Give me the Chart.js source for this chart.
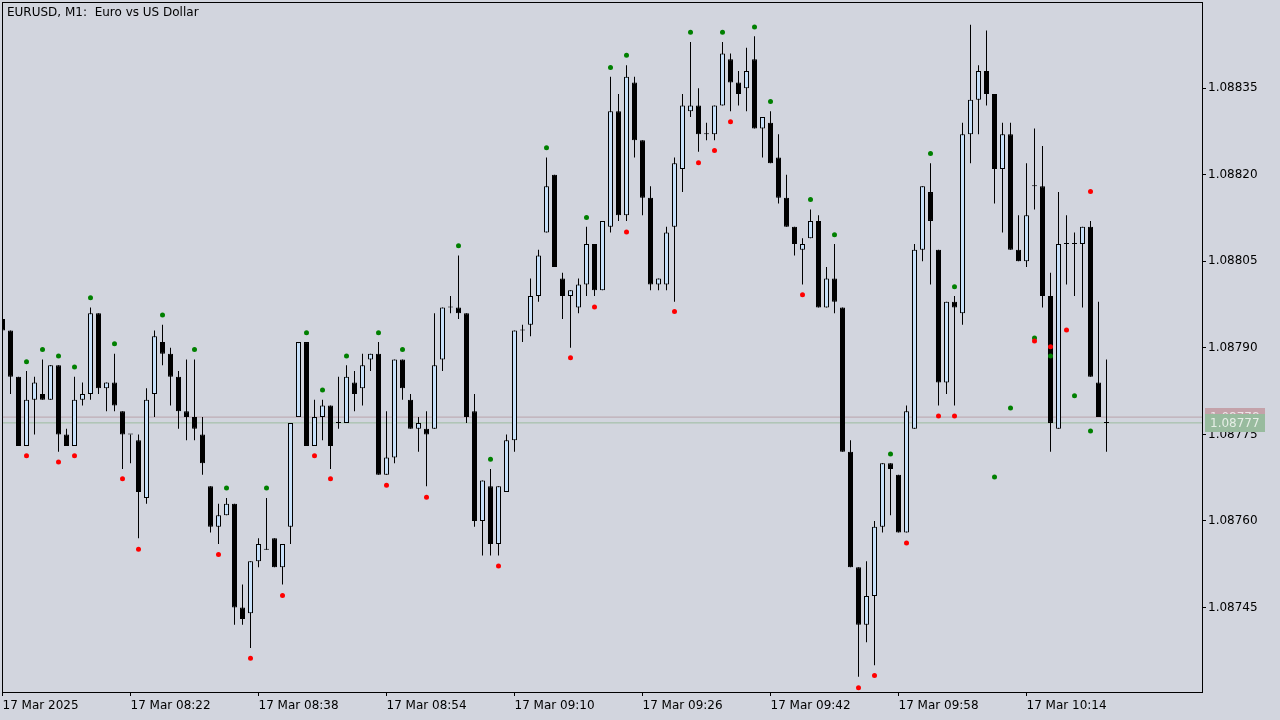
<!DOCTYPE html>
<html>
<head>
<meta charset="utf-8">
<title>EURUSD, M1</title>
<script src="https://cdn.jsdelivr.net/npm/chart.js@4.4.1/dist/chart.umd.min.js"></script>
<style>
  html, body { margin: 0; padding: 0; background: #d2d5de; }
  canvas { display: block; }
</style>
</head>
<body>
<canvas id="myChart" width="1280" height="720"></canvas>
<script>
// EURUSD M1, 17 Mar 2025, one candle per minute from 08:06 to 10:24
const opens = [
  1.08795, 1.08793, 1.08785, 1.08773, 1.08781, 1.08782, 1.08781, 1.08787, 1.08775, 1.08773,
  1.08781, 1.08782, 1.08796, 1.08783, 1.08784, 1.08779, 1.08775, 1.08774, 1.08764, 1.08782,
  1.08791, 1.08789, 1.08785, 1.08779, 1.08778, 1.08775, 1.08766, 1.08759, 1.08761, 1.08763,
  1.08745, 1.08744, 1.08753, 1.08755, 1.08757, 1.08752, 1.08759, 1.08778, 1.08791, 1.08773,
  1.08778, 1.08780, 1.08777, 1.08777, 1.08784, 1.08783, 1.08788, 1.08789, 1.08768, 1.08771,
  1.08788, 1.08781, 1.08776, 1.08776, 1.08776, 1.08788, 1.08797, 1.08797, 1.08796, 1.08779,
  1.08760, 1.08766, 1.08756, 1.08765, 1.08774, 1.08793, 1.08794, 1.08799, 1.08810, 1.08820,
  1.08802, 1.08799, 1.08797, 1.08801, 1.08808, 1.08800, 1.08811, 1.08831, 1.08813, 1.08836,
  1.08826, 1.08816, 1.08801, 1.08801, 1.08811, 1.08821, 1.08831, 1.08832, 1.08827, 1.08827,
  1.08832, 1.08840, 1.08836, 1.08835, 1.08840, 1.08828, 1.08829, 1.08823, 1.08816, 1.08811,
  1.08807, 1.08809, 1.08812, 1.08797, 1.08802, 1.08797, 1.08772, 1.08752, 1.08742, 1.08747,
  1.08759, 1.08770, 1.08768, 1.08758, 1.08776, 1.08807, 1.08817, 1.08807, 1.08784, 1.08798,
  1.08796, 1.08827, 1.08833, 1.08838, 1.08834, 1.08821, 1.08827, 1.08807, 1.08805, 1.08818,
  1.08818, 1.08799, 1.08776, 1.08808, 1.08808, 1.08808, 1.08811, 1.08784, 1.08777
];
const highs = [
  1.08795, 1.08793, 1.08785, 1.08786, 1.08785, 1.08788, 1.08787, 1.08787, 1.08776, 1.08785,
  1.08784, 1.08797, 1.08796, 1.08784, 1.08789, 1.08779, 1.08775, 1.08775, 1.08783, 1.08793,
  1.08794, 1.08790, 1.08786, 1.08788, 1.08788, 1.08778, 1.08766, 1.08763, 1.08764, 1.08763,
  1.08749, 1.08753, 1.08757, 1.08764, 1.08757, 1.08756, 1.08777, 1.08791, 1.08791, 1.08781,
  1.08781, 1.08780, 1.08785, 1.08787, 1.08786, 1.08789, 1.08789, 1.08791, 1.08779, 1.08788,
  1.08788, 1.08782, 1.08778, 1.08779, 1.08796, 1.08797, 1.08799, 1.08806, 1.08796, 1.08782,
  1.08767, 1.08769, 1.08766, 1.08775, 1.08793, 1.08794, 1.08802, 1.08807, 1.08823, 1.08820,
  1.08803, 1.08800, 1.08802, 1.08811, 1.08808, 1.08812, 1.08837, 1.08834, 1.08839, 1.08837,
  1.08826, 1.08818, 1.08802, 1.08811, 1.08823, 1.08834, 1.08843, 1.08835, 1.08829, 1.08832,
  1.08843, 1.08841, 1.08838, 1.08842, 1.08844, 1.08830, 1.08831, 1.08827, 1.08820, 1.08811,
  1.08809, 1.08814, 1.08813, 1.08804, 1.08808, 1.08797, 1.08774, 1.08752, 1.08753, 1.08760,
  1.08770, 1.08770, 1.08768, 1.08780, 1.08808, 1.08818, 1.08822, 1.08807, 1.08798, 1.08799,
  1.08829, 1.08846, 1.08839, 1.08845, 1.08834, 1.08829, 1.08829, 1.08813, 1.08822, 1.08828,
  1.08825, 1.08803, 1.08817, 1.08813, 1.08810, 1.08811, 1.08812, 1.08798, 1.08788
];
const lows = [
  1.08793, 1.08782, 1.08773, 1.08773, 1.08775, 1.08781, 1.08781, 1.08772, 1.08773, 1.08773,
  1.08780, 1.08781, 1.08782, 1.08779, 1.08779, 1.08769, 1.08770, 1.08757, 1.08763, 1.08778,
  1.08787, 1.08780, 1.08776, 1.08774, 1.08774, 1.08768, 1.08758, 1.08756, 1.08761, 1.08742,
  1.08742, 1.08738, 1.08752, 1.08755, 1.08752, 1.08749, 1.08756, 1.08778, 1.08773, 1.08773,
  1.08774, 1.08769, 1.08776, 1.08777, 1.08779, 1.08780, 1.08786, 1.08768, 1.08768, 1.08770,
  1.08781, 1.08776, 1.08772, 1.08766, 1.08776, 1.08786, 1.08796, 1.08795, 1.08777, 1.08759,
  1.08754, 1.08754, 1.08754, 1.08765, 1.08772, 1.08791, 1.08792, 1.08798, 1.08810, 1.08804,
  1.08795, 1.08790, 1.08796, 1.08799, 1.08799, 1.08800, 1.08810, 1.08812, 1.08812, 1.08823,
  1.08813, 1.08800, 1.08800, 1.08800, 1.08798, 1.08817, 1.08830, 1.08824, 1.08826, 1.08826,
  1.08832, 1.08831, 1.08832, 1.08831, 1.08828, 1.08823, 1.08822, 1.08815, 1.08811, 1.08806,
  1.08801, 1.08809, 1.08797, 1.08797, 1.08796, 1.08772, 1.08752, 1.08733, 1.08739, 1.08735,
  1.08758, 1.08761, 1.08758, 1.08758, 1.08776, 1.08805, 1.08801, 1.08780, 1.08782, 1.08780,
  1.08794, 1.08822, 1.08827, 1.08832, 1.08815, 1.08810, 1.08807, 1.08805, 1.08804, 1.08814,
  1.08797, 1.08772, 1.08776, 1.08801, 1.08799, 1.08797, 1.08785, 1.08778, 1.08772
];
const closes = [
  1.08793, 1.08785, 1.08773, 1.08781, 1.08784, 1.08781, 1.08787, 1.08775, 1.08773, 1.08781,
  1.08782, 1.08796, 1.08783, 1.08784, 1.08780, 1.08775, 1.08775, 1.08765, 1.08781, 1.08792,
  1.08789, 1.08785, 1.08779, 1.08778, 1.08776, 1.08770, 1.08759, 1.08761, 1.08763, 1.08745,
  1.08743, 1.08753, 1.08756, 1.08755, 1.08752, 1.08756, 1.08777, 1.08791, 1.08773, 1.08778,
  1.08780, 1.08773, 1.08777, 1.08785, 1.08782, 1.08787, 1.08789, 1.08768, 1.08771, 1.08788,
  1.08783, 1.08776, 1.08777, 1.08775, 1.08787, 1.08797, 1.08797, 1.08796, 1.08778, 1.08760,
  1.08767, 1.08756, 1.08766, 1.08774, 1.08793, 1.08793, 1.08799, 1.08806, 1.08818, 1.08804,
  1.08799, 1.08800, 1.08801, 1.08808, 1.08800, 1.08812, 1.08831, 1.08813, 1.08837, 1.08826,
  1.08816, 1.08801, 1.08802, 1.08810, 1.08822, 1.08832, 1.08832, 1.08827, 1.08827, 1.08832,
  1.08841, 1.08836, 1.08834, 1.08838, 1.08828, 1.08830, 1.08822, 1.08816, 1.08811, 1.08808,
  1.08808, 1.08812, 1.08797, 1.08802, 1.08798, 1.08772, 1.08752, 1.08742, 1.08747, 1.08759,
  1.08770, 1.08769, 1.08758, 1.08779, 1.08807, 1.08818, 1.08812, 1.08784, 1.08798, 1.08797,
  1.08827, 1.08833, 1.08838, 1.08834, 1.08821, 1.08827, 1.08807, 1.08805, 1.08813, 1.08818,
  1.08799, 1.08777, 1.08808, 1.08808, 1.08808, 1.08811, 1.08785, 1.08778, 1.08777
];

// indicator dots: green above, red below (candle index + value)
const upDotIndex = [3, 5, 7, 9, 11, 14, 20, 24, 28, 33, 38, 40, 43, 47, 50, 57, 61, 68, 73, 76,
  78, 86, 90, 94, 96, 101, 104, 111, 116, 119, 124, 126, 129, 131, 134, 136];
const upDotValue = [1.087876, 1.087897, 1.087886, 1.087867, 1.087987, 1.087907, 1.087957, 1.087897,
  1.087657, 1.087657, 1.087926, 1.087827, 1.087886, 1.087926, 1.087897, 1.088077, 1.087707,
  1.088247, 1.088126, 1.088386, 1.088407, 1.088447, 1.088447, 1.088456, 1.088327, 1.088157,
  1.088096, 1.087716, 1.088237, 1.088006, 1.087676, 1.087796, 1.087917, 1.087886, 1.087817, 1.087756];
const downDotIndex = [3, 7, 9, 15, 17, 27, 31, 35, 39, 41, 48, 53, 62, 71, 74, 78, 84, 87, 89, 91,
  100, 107, 109, 113, 117, 119, 129, 131, 133, 136];
const downDotValue = [1.087713, 1.087702, 1.087713, 1.087673, 1.087551, 1.087542, 1.087362, 1.087471,
  1.087713, 1.087673, 1.087662, 1.087641, 1.087522, 1.087883, 1.087971, 1.088101, 1.087963,
  1.088221, 1.088242, 1.088292, 1.087992, 1.087311, 1.087332, 1.087562, 1.087782, 1.087782,
  1.087912, 1.087902, 1.087931, 1.088171];

const bidPrice = 1.08777;
const askPrice = 1.08778;

const xTickIndex = [0, 16, 32, 48, 64, 80, 96, 112, 128];
const xTickLabels = ['17 Mar 2025', '17 Mar 08:22', '17 Mar 08:38', '17 Mar 08:54', '17 Mar 09:10',
  '17 Mar 09:26', '17 Mar 09:42', '17 Mar 09:58', '17 Mar 10:14'];
const yTickValues = [1.08745, 1.0876, 1.08775, 1.0879, 1.08805, 1.0882, 1.08835];
const chartTitle = 'EURUSD, M1:  Euro vs US Dollar';

// visible window of the chart (8 px per minute)
const xMin = -0.0625;
const xMax = 149.9375;
const yMin = 1.0873036;
const yMax = 1.0884994;

const bullFill = '#c8e1fa';

const bodies = opens.map((o, i) => ({ x: i, y: [o, closes[i]] }));
const wicks = lows.map((l, i) => ({ x: i, y: [l, highs[i]] }));
const upDots = upDotIndex.map((idx, k) => ({ x: idx, y: upDotValue[k] }));
const downDots = downDotIndex.map((idx, k) => ({ x: idx, y: downDotValue[k] }));

// frame, title and the bid/ask boxes on the price scale
const mtDecor = {
  id: 'mtDecor',
  afterDraw(chart) {
    const { ctx, chartArea: a, scales: { y } } = chart;
    ctx.save();
    ctx.strokeStyle = '#000';
    ctx.lineWidth = 1;
    ctx.strokeRect(a.left + 0.5, a.top + 0.5, a.right - a.left, a.bottom - a.top);

    ctx.font = '12px "DejaVu Sans"';
    ctx.textBaseline = 'middle';
    ctx.fillStyle = '#000';
    ctx.fillText(chartTitle, a.left + 5, a.top + 11);

    const askY = Math.round(y.getPixelForValue(askPrice));
    const bidY = Math.round(y.getPixelForValue(bidPrice));
    ctx.fillStyle = '#c4a2aa';
    ctx.fillRect(a.right + 3, askY - 9, 60, 18);
    ctx.fillStyle = '#ece4e6';
    ctx.fillText(askPrice.toFixed(5), a.right + 8, askY + 1);
    ctx.fillStyle = '#98bb9e';
    ctx.fillRect(a.right + 3, bidY - 9, 60, 18);
    ctx.fillStyle = '#e6eee6';
    ctx.fillText(bidPrice.toFixed(5), a.right + 8, bidY + 1);
    ctx.restore();
  }
};

Chart.defaults.font.family = '"DejaVu Sans"';
Chart.defaults.font.size = 12;
Chart.defaults.color = '#000';

const ctx = document.getElementById('myChart').getContext('2d');
new Chart(ctx, {
  type: 'bar',
  data: {
    datasets: [
      {
        type: 'line', data: [{ x: xMin, y: askPrice }, { x: xMax, y: askPrice }],
        borderColor: '#b9a3ab', borderWidth: 1, pointRadius: 0, order: 11
      },
      {
        type: 'line', data: [{ x: xMin, y: bidPrice }, { x: xMax, y: bidPrice }],
        borderColor: '#9cbc9f', borderWidth: 1, pointRadius: 0, order: 10
      },
      {
        data: wicks, grouped: false, barThickness: 1, maxBarThickness: 1,
        backgroundColor: '#000', borderWidth: 0, inflateAmount: 0, order: 4
      },
      {
        data: bodies, grouped: false, barThickness: 5, maxBarThickness: 5,
        backgroundColor: (c) => closes[c.dataIndex] > opens[c.dataIndex] ? bullFill : '#000',
        borderColor: '#000', borderWidth: 1, borderSkipped: false,
        inflateAmount: 0, minBarLength: 1, order: 3
      },
      {
        type: 'line', data: upDots, showLine: false, pointRadius: 2.5,
        pointBackgroundColor: '#008000', pointBorderWidth: 0, order: 1
      },
      {
        type: 'line', data: downDots, showLine: false, pointRadius: 2.5,
        pointBackgroundColor: '#ff0000', pointBorderWidth: 0, order: 0
      }
    ]
  },
  options: {
    responsive: false,
    animation: false,
    devicePixelRatio: 1,
    events: [],
    layout: { autoPadding: false, padding: { left: 2, top: 2, right: 0, bottom: 0 } },
    plugins: { legend: { display: false }, tooltip: { enabled: false } },
    scales: {
      x: {
        type: 'linear',
        min: xMin,
        max: xMax,
        offset: false,
        afterBuildTicks: (s) => { s.ticks = xTickIndex.map((v) => ({ value: v })); },
        afterFit: (s) => { s.height = 28; s.paddingLeft = 0; s.paddingRight = 0; },
        grid: { offset: false, drawOnChartArea: false, tickLength: 4, color: '#000' },
        border: { color: '#000' },
        ticks: {
          align: 'start', padding: 3, maxRotation: 0, autoSkip: false,
          callback: (v) => xTickLabels[xTickIndex.indexOf(v)] ?? ''
        }
      },
      y: {
        position: 'right',
        min: yMin,
        max: yMax,
        afterBuildTicks: (s) => { s.ticks = yTickValues.map((v) => ({ value: v })); },
        afterFit: (s) => { s.width = 78; s.paddingTop = 0; s.paddingBottom = 0; },
        grid: { drawOnChartArea: false, tickLength: 4, color: '#000' },
        border: { color: '#000' },
        ticks: { padding: 2, autoSkip: false, callback: (v) => Number(v).toFixed(5) }
      }
    }
  },
  plugins: [mtDecor]
});
</script>
</body>
</html>
